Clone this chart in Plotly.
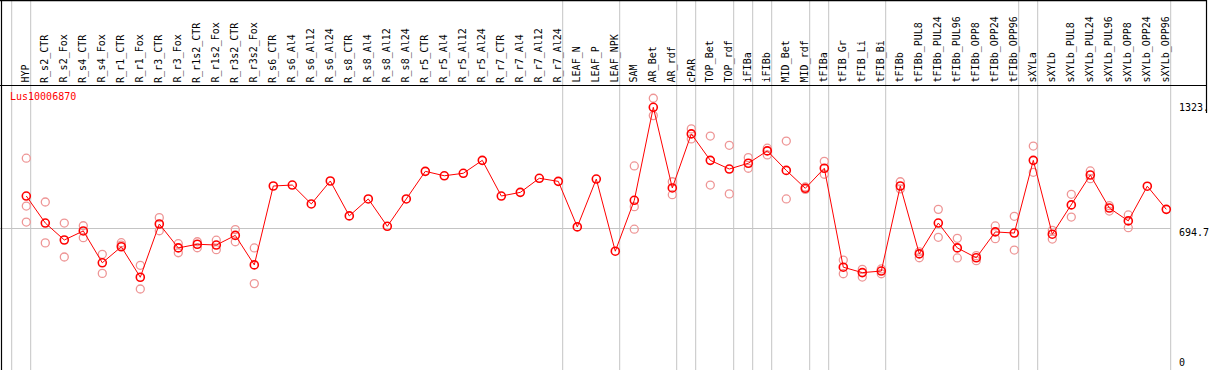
import plotly.graph_objects as go

# ---------------- data ----------------
categories = [
    "HYP", "R_s2_CTR", "R_s2_Fox", "R_s4_CTR", "R_s4_Fox", "R_r1_CTR", "R_r1_Fox",
    "R_r3_CTR", "R_r3_Fox", "R_r1s2_CTR", "R_r1s2_Fox", "R_r3s2_CTR", "R_r3s2_Fox",
    "R_s6_CTR", "R_s6_Al4", "R_s6_Al12", "R_s6_Al24", "R_s8_CTR", "R_s8_Al4",
    "R_s8_Al12", "R_s8_Al24", "R_r5_CTR", "R_r5_Al4", "R_r5_Al12", "R_r5_Al24",
    "R_r7_CTR", "R_r7_Al4", "R_r7_Al12", "R_r7_Al24", "LEAF_N", "LEAF_P", "LEAF_NPK",
    "SAM", "AR_Bet", "AR_rdf", "cPAR", "TOP_Bet", "TOP_rdf", "iFIBa", "iFIBb",
    "MID_Bet", "MID_rdf", "tFIBa", "tFIB_Gr", "tFIB_Li", "tFIB_Bi", "tFIBb",
    "tFIBb_PUL8", "tFIBb_PUL24", "tFIBb_PUL96", "tFIBb_OPP8", "tFIBb_OPP24",
    "tFIBb_OPP96", "sXYLa", "sXYLb", "sXYLb_PUL8", "sXYLb_PUL24", "sXYLb_PUL96",
    "sXYLb_OPP8", "sXYLb_OPP24", "sXYLb_OPP96",
]

mean_values = [
    863, 723, 635, 682, 517, 600, 442, 718, 594, 613, 609, 659, 506,
    915, 920, 822, 941, 760, 848, 706, 848, 991, 968, 981, 1048,
    863, 882, 955, 939, 703, 951, 577,
    841, 1323, 905, 1185, 1048, 1003, 1033, 1097, 996, 903, 1007,
    494, 466, 474, 915, 563, 723, 594, 543, 677, 671,
    1048, 665, 817, 972, 801, 734, 914, 794,
]

replicates = [
    [1059, 811, 728], [832, 620], [723, 547], [709, 647], [561, 462], [621, 609],
    [504, 381], [751, 683], [616, 569], [626, 595], [634, 585], [689, 626], [594, 409],
    [], [], [], [], [], [], [], [], [], [], [], [], [], [], [], [], [], [], [],
    [1019, 808, 691], [1370, 1280], [937, 870], [1211, 1159], [1174, 920],
    [1126, 874], [1062, 1007], [1111, 1076], [1148, 848], [910, 897], [1043, 976],
    [531, 460], [483, 443], [485, 460], [937, 900], [574, 543], [794, 649],
    [644, 542], [554, 528], [708, 642], [758, 583],
    [1122, 986], [685, 640], [872, 754], [993, 953], [813, 785], [765, 699], [], [],
]

group_ends = [-1, 0, 28, 31, 34, 35, 37, 38, 39, 41, 42, 45, 52, 53, 60]
gene_id = "Lus10006870"
axis_labels = ["1323.", "694.7", "0"]
axis_values = [1323.0, 694.7, 0.0]

# ---------------- geometry ----------------
W, H = 1209, 370
CAT_PX = 19.0          # pixels per category
X0_PX = 26.3           # pixel of first category
Y0_PX = 362.5          # pixel of value 0
PX_PER_UNIT = (362.5 - 107.3) / 1323.0
HEADER_PX = 85.5
RIGHT_PX = 1206.5
RIGHT_LINE_END_PX = 113
SEP_OFF = 4.4 / CAT_PX


def xv(px):
    return (px - X0_PX) / CAT_PX


def yv(px):
    return (Y0_PX - px) / PX_PER_UNIT


x_range = [xv(0), xv(W)]
y_range = [yv(H), yv(0)]

FONT = "DejaVu Sans Mono"
RED = "#ff0000"
PINK = "rgb(238,150,150)"
GRID = "#c4c4c4"

xs = list(range(len(categories)))
rep_x, rep_y = [], []
for i, reps in enumerate(replicates):
    for v in reps:
        rep_x.append(i)
        rep_y.append(v)

fig = go.Figure()
fig.add_trace(go.Scatter(
    x=rep_x, y=rep_y, mode="markers",
    marker=dict(symbol="circle-open", size=8, color=PINK, line=dict(width=1.3, color=PINK)),
    hoverinfo="skip", showlegend=False,
))
fig.add_trace(go.Scatter(
    x=xs, y=mean_values, mode="lines+markers",
    line=dict(color=RED, width=1),
    marker=dict(symbol="circle-open", size=8, color=RED, line=dict(width=1.6, color=RED)),
    text=categories, showlegend=False,
))

shapes = []
# vertical group separators
for b in group_ends:
    xb = b + SEP_OFF
    shapes.append(dict(type="line", xref="x", yref="y", x0=xb, x1=xb,
                       y0=y_range[0], y1=y_range[1], layer="below",
                       line=dict(color=GRID, width=1)))
# horizontal reference line
shapes.append(dict(type="line", xref="x", yref="y", x0=x_range[0], x1=group_ends[-1] + SEP_OFF,
                   y0=axis_values[1], y1=axis_values[1], layer="below",
                   line=dict(color=GRID, width=1)))
# header separator
shapes.append(dict(type="line", xref="x", yref="y", x0=x_range[0], x1=xv(RIGHT_PX),
                   y0=yv(HEADER_PX), y1=yv(HEADER_PX), line=dict(color="black", width=1.2)))
# frame
shapes.append(dict(type="line", xref="x", yref="y", x0=xv(1.5), x1=xv(1.5),
                   y0=y_range[0], y1=y_range[1], line=dict(color="black", width=1.2)))
shapes.append(dict(type="line", xref="x", yref="y", x0=x_range[0], x1=xv(RIGHT_PX),
                   y0=yv(0.6), y1=yv(0.6), line=dict(color="black", width=1.2)))
shapes.append(dict(type="line", xref="x", yref="y", x0=xv(RIGHT_PX), x1=xv(RIGHT_PX),
                   y0=yv(RIGHT_LINE_END_PX), y1=y_range[1], line=dict(color="black", width=1.2)))

annotations = []
for i, name in enumerate(categories):
    annotations.append(dict(x=i - 0.03, y=yv(HEADER_PX - 1.8), xref="x", yref="y",
                            text=name, textangle=-90, showarrow=False,
                            xanchor="center", yanchor="bottom", borderpad=0,
                            font=dict(family=FONT, size=10, color="black")))
annotations.append(dict(x=xv(9.0), y=yv(96.5), xref="x", yref="y", text=gene_id,
                        showarrow=False, xanchor="left", yanchor="middle", borderpad=0,
                        font=dict(family=FONT, size=10, color=RED)))
label_shift = [0, -3.5, 0]
for lab, val, sh in zip(axis_labels, axis_values, label_shift):
    annotations.append(dict(x=xv(1177.5), y=val, xref="x", yref="y", text=lab,
                            showarrow=False, xanchor="left", yanchor="middle",
                            yshift=sh, borderpad=0,
                            font=dict(family=FONT, size=10, color="black")))

fig.update_layout(
    width=W, height=H,
    margin=dict(l=0, r=0, t=0, b=0, pad=0),
    paper_bgcolor="white", plot_bgcolor="white",
    xaxis=dict(range=x_range, visible=False, fixedrange=True),
    yaxis=dict(range=y_range, visible=False, fixedrange=True),
    shapes=shapes, annotations=annotations,
    showlegend=False,
)

fig.write_html(
    "out.html",
    config={"displayModeBar": False, "staticPlot": True},
    post_script="document.body.style.margin='0';document.body.style.overflow='hidden';",
)
